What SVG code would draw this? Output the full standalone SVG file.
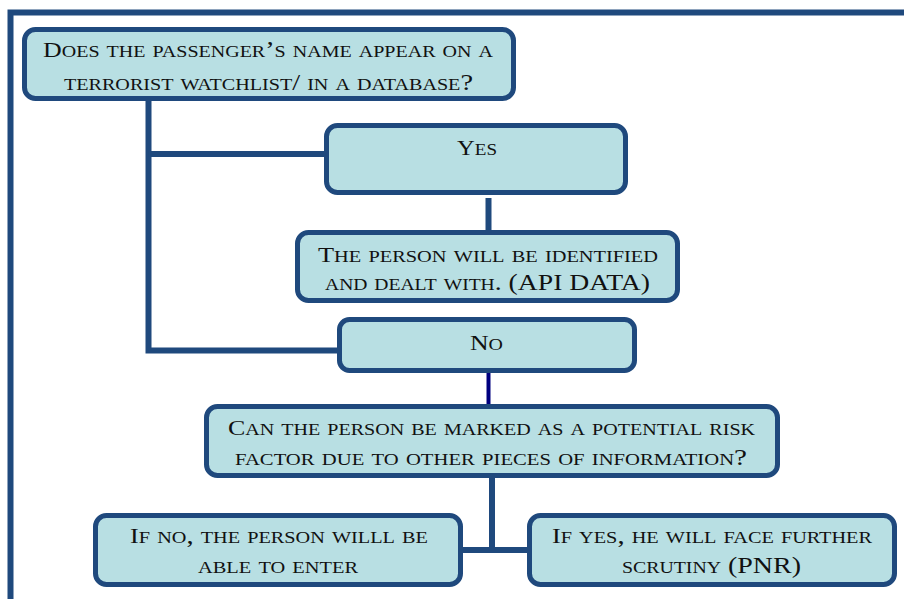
<svg xmlns="http://www.w3.org/2000/svg" width="904" height="599" viewBox="0 0 904 599">
<style>
.box{fill:#B8DFE3;stroke:#1F497D;stroke-width:5}
.t{font-family:"Liberation Serif","Times New Roman",serif;font-size:24px;font-variant:small-caps;fill:#111}
.k{font-size:22px}
.c{fill:none;stroke:#1F497D;stroke-width:6}
</style>
<rect width="904" height="599" fill="#fff"/>
<path d="M10.5,599 V12.5 H904" fill="none" stroke="#1F497D" stroke-width="6"/>
<g id="connectors">
<path class="c" d="M148.5,101 V350.5 H338"/>
<path class="c" d="M148.5,154 H325"/>
<path class="c" d="M488.5,198 V231"/>
<path d="M488.5,373 V405" fill="none" stroke="#00007F" stroke-width="4"/>
<path class="c" d="M492,477 V550"/>
<path class="c" d="M462,550 H528"/>
</g>
<g id="q1">
<rect class="box" x="24.5" y="29.5" width="489" height="69" rx="11"/>
<text class="t" x="43" y="57" textLength="450" lengthAdjust="spacingAndGlyphs"><tspan class="k">D</tspan>oes the passenger’s name appear on a</text>
<text class="t" x="64" y="90" textLength="409" lengthAdjust="spacingAndGlyphs">terrorist watchlist/ in a database?</text>
</g>
<g id="yes">
<rect class="box" x="326.5" y="125.5" width="299" height="67" rx="11"/>
<text class="t" x="457" y="155" textLength="40" lengthAdjust="spacingAndGlyphs"><tspan class="k">Y</tspan>es</text>
</g>
<g id="api">
<rect class="box" x="297.5" y="232.5" width="380" height="68" rx="11"/>
<text class="t" x="318" y="262" textLength="340" lengthAdjust="spacingAndGlyphs"><tspan class="k">T</tspan>he person will be identified</text>
<text class="t" x="325" y="290" textLength="325" lengthAdjust="spacingAndGlyphs">and dealt with. (API DATA)</text>
</g>
<g id="no">
<rect class="box" x="339.5" y="319.5" width="295" height="51" rx="10"/>
<text class="t" x="470" y="350" textLength="33" lengthAdjust="spacingAndGlyphs"><tspan class="k">N</tspan>o</text>
</g>
<g id="q2">
<rect class="box" x="206.5" y="406.5" width="571" height="69" rx="11"/>
<text class="t" x="228" y="435" textLength="527" lengthAdjust="spacingAndGlyphs"><tspan class="k">C</tspan>an the person be marked as a potential risk</text>
<text class="t" x="235" y="465" textLength="512" lengthAdjust="spacingAndGlyphs">factor due to other pieces of information?</text>
</g>
<g id="enter">
<rect class="box" x="95.5" y="515.5" width="365" height="69" rx="11"/>
<text class="t" x="130" y="543" textLength="298" lengthAdjust="spacingAndGlyphs"><tspan class="k">I</tspan>f no, the person willl be</text>
<text class="t" x="198" y="573" textLength="160" lengthAdjust="spacingAndGlyphs">able to enter</text>
</g>
<g id="scrutiny">
<rect class="box" x="529.5" y="515.5" width="365" height="69" rx="11"/>
<text class="t" x="552" y="543" textLength="320" lengthAdjust="spacingAndGlyphs"><tspan class="k">I</tspan>f yes, he will face further</text>
<text class="t" x="622" y="573" textLength="179" lengthAdjust="spacingAndGlyphs">scrutiny (PNR)</text>
</g>
</svg>
